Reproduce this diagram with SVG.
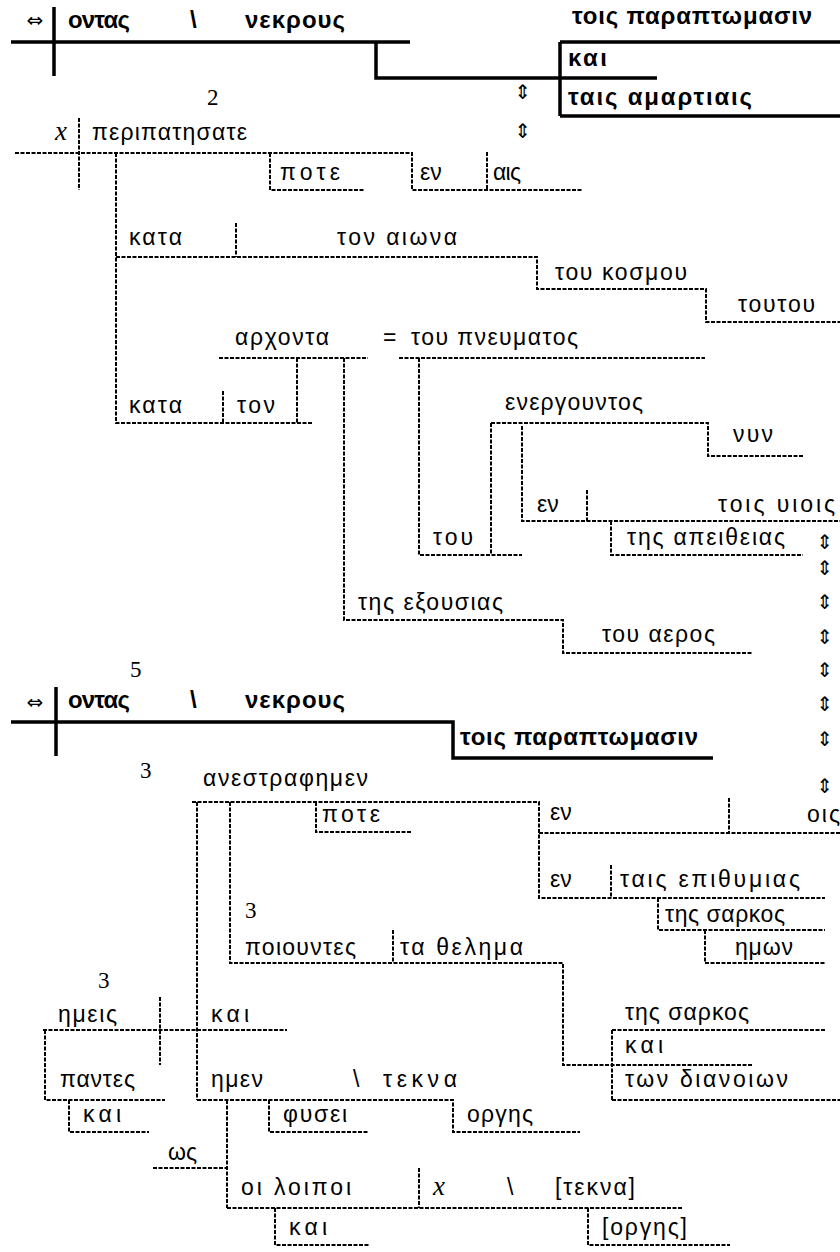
<svg xmlns="http://www.w3.org/2000/svg" width="840" height="1252" viewBox="0 0 840 1252">
<style>
.b{font-family:"Liberation Sans",Arial,sans-serif;font-weight:bold;font-size:24px;fill:#000}
.t{font-family:"Liberation Sans",Arial,sans-serif;font-size:23px;fill:#000}
.n{font-family:"Liberation Serif",serif;font-size:23px;fill:#000}
.i{font-family:"Liberation Serif",serif;font-style:italic;font-size:27px;fill:#000}
.a{font-family:"DejaVu Sans",sans-serif;font-size:20px;fill:#000;text-anchor:middle}
.u{font-family:"DejaVu Sans",sans-serif;font-size:20px;fill:#000;text-anchor:middle}
.s{fill:none;stroke:#000;stroke-width:3.5}
.d{fill:none;stroke:#000;stroke-width:2;stroke-dasharray:4 1.5}
</style>
<rect width="840" height="1252" fill="#fff"/>
<g id="connectors">
<path class="s" d="M54 7V76M11 42H410M376 42V78H657M560 42V116M560 42H840M560 116H840"/>
<path class="d" d="M79 118V190M15 153H412V190H583M487 152V190M270 153V190H365M116 153V423H312M116 257H537V289H706V322H840M236 223V257"/>
<path class="d" d="M219 358H368M297 358V423M223 391V423M344 358V620H563V653H753M399 358H705M419 358V555H522M491 423H708V456H803M491 423V555M522 426V521H840M587 490V521M611 521V555H803"/>
<path class="s" d="M56 687V756M11 722H453V758H713"/>
<path class="d" d="M192 802H539V898H825M539 833H840M729 798V833M611 865V898M658 898V930H825M705 930V963H825"/>
<path class="d" d="M197 802V1100M230 802V963H563V1065H753M316 802V832H412M393 930V963M612 1030V1100M612 1030H825M612 1100H840"/>
<path class="d" d="M43 1030H287M160 997V1065M45 1030V1100H165M69 1100V1132H149M197 1100H453V1132H580M269 1100V1132H369M227 1100V1208M153 1168H227M227 1208H683M419 1168V1208M588 1208V1245H730M275 1208V1245H370"/>
</g>
<g id="s1-main">
<text class="a" x="35" y="27">⇔</text>
<text class="b" x="68" y="28" textLength="62">οντας</text>
<text class="b" x="190" y="28">\</text>
<text class="b" x="245" y="28" textLength="100">νεκρους</text>
</g>
<g id="s1-dat">
<text class="b" x="572" y="24" textLength="240">τοις παραπτωμασιν</text>
<text class="b" x="568" y="66" textLength="39">και</text>
<text class="b" x="568" y="105" textLength="184">ταις αμαρτιαις</text>
</g>
<g id="arrows-top">
<text class="u" x="523" y="99">⇕</text>
<text class="u" x="523" y="138">⇕</text>
</g>
<g id="num2"><text class="n" x="207" y="105">2</text></g>
<g id="perip">
<text class="i" x="55" y="140">x</text>
<text class="t" x="92" y="140" textLength="155">περιπατησατε</text>
</g>
<g id="pote1"><text class="t" x="280" y="180" textLength="60">ποτε</text></g>
<g id="en-ais"><text class="t" x="420" y="180">εν</text><text class="t" x="493" y="180" textLength="28">αις</text></g>
<g id="kata-aiwna"><text class="t" x="129" y="245" textLength="53">κατα</text><text class="t" x="337" y="245" textLength="120">τον αιωνα</text></g>
<g id="kosmou"><text class="t" x="555" y="280" textLength="132">του κοσμου</text></g>
<g id="toutou"><text class="t" x="738" y="312" textLength="77">τουτου</text></g>
<g id="arxonta"><text class="t" x="235" y="345" textLength="94">αρχοντα</text><text class="t" x="383" y="345">=</text><text class="t" x="411" y="345" textLength="167">του πνευματος</text></g>
<g id="kata-ton"><text class="t" x="129" y="413" textLength="53">κατα</text><text class="t" x="237" y="413" textLength="38">τον</text></g>
<g id="energ"><text class="t" x="505" y="410" textLength="138">ενεργουντος</text></g>
<g id="nyn"><text class="t" x="733" y="442" textLength="40">νυν</text></g>
<g id="en-yiois"><text class="t" x="537" y="512">εν</text><text class="t" x="718" y="512" textLength="117">τοις υιοις</text></g>
<g id="tou"><text class="t" x="433" y="545" textLength="40">του</text></g>
<g id="apeith"><text class="t" x="627" y="545" textLength="158">της απειθειας</text></g>
<g id="exous"><text class="t" x="358" y="610" textLength="145">της εξουσιας</text></g>
<g id="aeros"><text class="t" x="602" y="642" textLength="113">του αερος</text></g>
<g id="arrows-mid">
<text class="u" x="825" y="549">⇕</text>
<text class="u" x="825" y="575">⇕</text>
<text class="u" x="825" y="609">⇕</text>
<text class="u" x="825" y="644">⇕</text>
<text class="u" x="825" y="677">⇕</text>
<text class="u" x="825" y="711">⇕</text>
<text class="u" x="825" y="746">⇕</text>
<text class="u" x="825" y="793">⇕</text>
</g>
<g id="num5"><text class="n" x="130" y="677">5</text></g>
<g id="s3-main">
<text class="a" x="35" y="709">⇔</text>
<text class="b" x="68" y="708" textLength="62">οντας</text>
<text class="b" x="190" y="708">\</text>
<text class="b" x="245" y="708" textLength="100">νεκρους</text>
</g>
<g id="s3-dat"><text class="b" x="460" y="745" textLength="238">τοις παραπτωμασιν</text></g>
<g id="anestr"><text class="n" x="140" y="778">3</text><text class="t" x="203" y="786" textLength="165">ανεστραφημεν</text></g>
<g id="pote2"><text class="t" x="322" y="822" textLength="58">ποτε</text></g>
<g id="en-ois"><text class="t" x="550" y="820">εν</text><text class="t" x="807" y="822" textLength="33">οις</text></g>
<g id="en-epith"><text class="t" x="550" y="887">εν</text><text class="t" x="620" y="887" textLength="180">ταις επιθυμιας</text></g>
<g id="sarkos1"><text class="t" x="665" y="922" textLength="120">της σαρκος</text></g>
<g id="hmwn"><text class="t" x="735" y="955" textLength="58">ημων</text></g>
<g id="poiountes"><text class="n" x="245" y="918">3</text><text class="t" x="245" y="955" textLength="111">ποιουντες</text><text class="t" x="400" y="955" textLength="123">τα θελημα</text></g>
<g id="sarkos2"><text class="t" x="625" y="1020" textLength="124">της σαρκος</text><text class="t" x="625" y="1053" textLength="38">και</text><text class="t" x="625" y="1087" textLength="163">των διανοιων</text></g>
<g id="hmeis"><text class="n" x="98" y="988">3</text><text class="t" x="58" y="1022" textLength="59">ημεις</text><text class="t" x="211" y="1022" textLength="38">και</text></g>
<g id="pantes"><text class="t" x="60" y="1087" textLength="75">παντες</text></g>
<g id="kai1"><text class="t" x="83" y="1122" textLength="38">και</text></g>
<g id="hmen"><text class="t" x="211" y="1087" textLength="52">ημεν</text><text class="t" x="353" y="1087">\</text><text class="t" x="383" y="1087" textLength="74">τεκνα</text></g>
<g id="fysei"><text class="t" x="283" y="1122" textLength="64">φυσει</text></g>
<g id="orghs"><text class="t" x="467" y="1122" textLength="66">οργης</text></g>
<g id="ws"><text class="t" x="168" y="1160" textLength="29">ως</text></g>
<g id="loipoi"><text class="t" x="241" y="1195" textLength="110">οι λοιποι</text><text class="i" x="433" y="1195">x</text><text class="t" x="507" y="1195">\</text><text class="t" x="555" y="1195" textLength="80">[τεκνα]</text></g>
<g id="kai2"><text class="t" x="289" y="1235" textLength="38">και</text></g>
<g id="orghs2"><text class="t" x="602" y="1235" textLength="85">[οργης]</text></g>
</svg>
